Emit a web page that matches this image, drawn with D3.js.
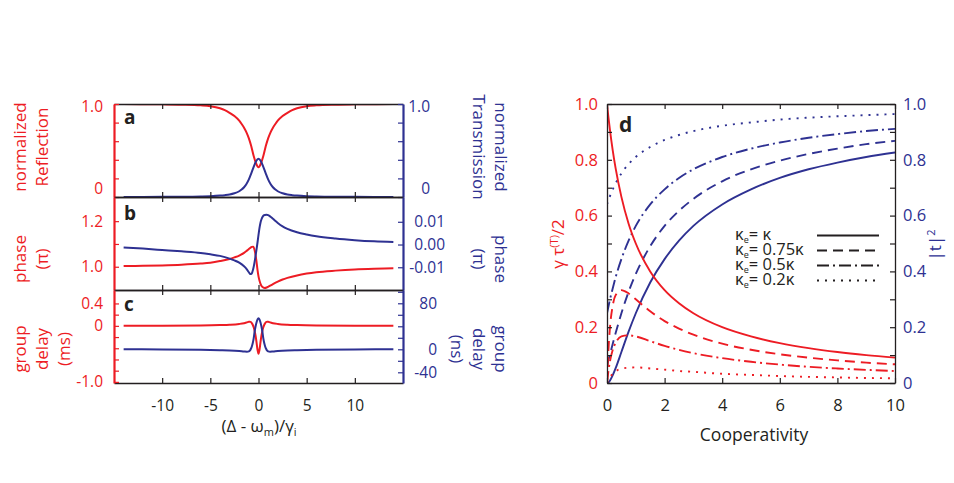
<!DOCTYPE html>
<html>
<head>
<meta charset="utf-8">
<script src="https://cdn.jsdelivr.net/npm/d3@7/dist/d3.min.js"></script>
<style>
  body { margin: 0; background: #fff; }
  svg { display: block; }
</style>
</head>
<body>
<div id="chart"></div>
<script>
// ---- panels a-c: detuning (Δ - ωm)/γi ----
const detuning = [-14, -12, -10, -8, -6, -5, -4, -3.5, -3, -2.5, -2, -1.75, -1.5, -1.25, -1, -0.75, -0.5, -0.25, 0,
  0.25, 0.5, 0.75, 1, 1.25, 1.5, 1.75, 2, 2.5, 3, 3.5, 4, 5, 6, 8, 10, 12, 14];
const reflection = [0.999, 0.998, 0.996, 0.993, 0.986, 0.977, 0.955, 0.935, 0.905, 0.87, 0.82, 0.785, 0.745, 0.695, 0.63, 0.545, 0.44, 0.36, 0.32,
  0.36, 0.44, 0.545, 0.63, 0.695, 0.745, 0.785, 0.82, 0.87, 0.905, 0.935, 0.955, 0.977, 0.986, 0.993, 0.996, 0.998, 0.999];
const transmission = [0.001, 0.001, 0.002, 0.003, 0.006, 0.009, 0.015, 0.02, 0.027, 0.04, 0.062, 0.08, 0.105, 0.14, 0.19, 0.255, 0.325, 0.385, 0.41,
  0.385, 0.325, 0.255, 0.19, 0.14, 0.105, 0.08, 0.062, 0.04, 0.027, 0.02, 0.015, 0.009, 0.006, 0.003, 0.002, 0.001, 0.001];

const phaseDetuning = [-14, -12, -10, -8, -6, -5, -4, -3, -2.5, -2, -1.5, -1.25, -1, -0.85, -0.7, -0.55, -0.4, -0.3, -0.2, -0.1,
  0, 0.1, 0.2, 0.3, 0.45, 0.65, 0.85, 1, 1.25, 1.5, 2, 2.5, 3, 4, 5, 6, 8, 10, 12, 14];
const reflPhase = [1.003, 1.004, 1.006, 1.009, 1.014, 1.018, 1.025, 1.034, 1.041, 1.049, 1.061, 1.069, 1.078, 1.083, 1.087, 1.088, 1.072, 1.05, 1.02, 0.985,
  0.958, 0.94, 0.926, 0.917, 0.91, 0.907, 0.909, 0.912, 0.918, 0.924, 0.935, 0.944, 0.951, 0.962, 0.970, 0.976, 0.983, 0.988, 0.991, 0.993];
const transPhase = [-0.0013, -0.0018, -0.0024, -0.003, -0.0037, -0.0043, -0.005, -0.0062, -0.007, -0.008, -0.0096, -0.0107, -0.0122, -0.013, -0.0127, -0.0108, -0.0075, -0.0048, -0.002, 0.001,
  0.0042, 0.0072, 0.0095, 0.011, 0.0124, 0.013, 0.0131, 0.0129, 0.0122, 0.0113, 0.0095, 0.008, 0.0069, 0.0054, 0.0044, 0.0036, 0.0026, 0.0019, 0.0014, 0.0011];

const delayDetuning = [-14, -10, -6, -4, -3, -2, -1.5, -1.2, -1, -0.9, -0.8, -0.7, -0.6, -0.5, -0.4, -0.3, -0.2, -0.1, 0,
  0.1, 0.2, 0.3, 0.4, 0.5, 0.6, 0.7, 0.8, 0.9, 1, 1.2, 1.5, 2, 3, 4, 6, 10, 14];
const reflDelay = [0, 0.002, 0.007, 0.014, 0.02, 0.034, 0.048, 0.062, 0.072, 0.074, 0.068, 0.05, 0.02, -0.025, -0.09, -0.18, -0.3, -0.43, -0.5,
  -0.43, -0.3, -0.18, -0.09, -0.025, 0.02, 0.05, 0.068, 0.074, 0.072, 0.062, 0.048, 0.034, 0.02, 0.014, 0.007, 0.002, 0];
const transDelay = [0, -0.3, -0.8, -1.5, -2, -3, -3.8, -4.2, -3.5, -2.4, 0.5, 4.5, 10.5, 19, 31, 40, 47, 52, 54,
  52, 47, 40, 31, 19, 10.5, 4.5, 0.5, -2.4, -3.5, -4.2, -3.8, -3, -2, -1.5, -0.8, -0.3, 0];

const detTicks = [-10, -5, 0, 5, 10];
const detTickLabels = ["-10", "-5", "0", "5", "10"];

const aRedTicks = [0, 0.2, 0.4, 0.6, 0.8, 1];
const aRedLabels = ["0", "", "", "", "", "1.0"];
const aBlueTicks = [0, 0.2, 0.4, 0.6, 0.8, 1];
const aBlueLabels = ["0", "", "", "", "", "1.0"];
const bRedTicks = [1.0, 1.1, 1.2];
const bRedLabels = ["1.0", "", "1.2"];
const bBlueTicks = [-0.01, 0, 0.01];
const bBlueLabels = ["-0.01", "0.00", "0.01"];
const cRedTicks = [-1, -0.8, -0.6, -0.4, -0.2, 0, 0.2, 0.4];
const cRedLabels = ["-1.0", "", "", "", "", "0", "", "0.4"];
const cBlueTicks = [-40, -20, 0, 20, 40, 60, 80, 100];
const cBlueLabels = ["-40", "", "0", "", "", "", "80", ""];

// ---- panel d: cooperativity ----
const coop = [0, 0.05, 0.1, 0.2, 0.3, 0.5, 0.75, 1, 1.5, 2, 2.5, 3, 4, 5, 6, 7, 8, 9, 10];
const delayKe100 = [1, 0.952, 0.909, 0.833, 0.769, 0.667, 0.571, 0.5, 0.4, 0.333, 0.286, 0.25, 0.2, 0.167, 0.143, 0.125, 0.111, 0.1, 0.091];
const delayKe75 = [0, 0.119, 0.195, 0.278, 0.315, 0.333, 0.321, 0.3, 0.257, 0.222, 0.195, 0.173, 0.141, 0.119, 0.103, 0.091, 0.081, 0.073, 0.067];
const delayKe50 = [0, 0.043, 0.076, 0.119, 0.144, 0.167, 0.171, 0.167, 0.15, 0.133, 0.119, 0.107, 0.089, 0.076, 0.066, 0.058, 0.052, 0.047, 0.043];
const delayKe20 = [0, 0.011, 0.020, 0.033, 0.042, 0.051, 0.055, 0.056, 0.052, 0.048, 0.043, 0.040, 0.033, 0.029, 0.025, 0.022, 0.020, 0.018, 0.017];
const transKe100 = [0, 0.002, 0.008, 0.028, 0.053, 0.111, 0.184, 0.25, 0.36, 0.444, 0.51, 0.563, 0.64, 0.694, 0.735, 0.766, 0.79, 0.81, 0.826];
const transKe75 = [0.063, 0.082, 0.101, 0.141, 0.179, 0.25, 0.327, 0.391, 0.49, 0.563, 0.617, 0.66, 0.723, 0.766, 0.797, 0.821, 0.84, 0.856, 0.868];
const transKe50 = [0.25, 0.274, 0.298, 0.34, 0.379, 0.444, 0.51, 0.563, 0.64, 0.694, 0.735, 0.766, 0.81, 0.84, 0.862, 0.879, 0.892, 0.903, 0.911];
const transKe20 = [0.64, 0.655, 0.669, 0.694, 0.716, 0.751, 0.785, 0.81, 0.846, 0.871, 0.889, 0.903, 0.922, 0.934, 0.944, 0.951, 0.956, 0.96, 0.964];
const legendRatios = ["κ", "0.75κ", "0.5κ", "0.2κ"];

const coopTicks = [0, 2, 4, 6, 8, 10];
const coopTickLabels = ["0", "2", "4", "6", "8", "10"];
const dTicks = [0, 0.1, 0.2, 0.3, 0.4, 0.5, 0.6, 0.7, 0.8, 0.9, 1.0];
const dTickLabels = ["0", "", "0.2", "", "0.4", "", "0.6", "", "0.8", "", "1.0"];

// ---- drawing ----
const RED = "#ed1c24";
const BLUE = "#2e3192";
const INK = "#231f20";
const FONT = "'Open Sans', 'Noto Sans', sans-serif";

const svg = d3.select("#chart").append("svg")
  .attr("width", 954).attr("height", 483)
  .attr("font-family", FONT);
svg.append("rect").attr("width", 954).attr("height", 483).attr("fill", "#fff");

const xDet = d3.scaleLinear().domain([-15, 15]).range([114, 403]);

function styleAxis(sel, lineColor, textColor, lineWidth, fontSize) {
  sel.attr("font-family", FONT).attr("font-size", fontSize);
  sel.select(".domain").attr("stroke", lineColor).attr("stroke-width", lineWidth);
  sel.selectAll(".tick line").attr("stroke", lineColor).attr("stroke-width", 1.2);
  sel.selectAll(".tick text").attr("fill", textColor);
}

// rotated multi-line axis title
function sideTitle(lines, x0, step, cy, angle, color, size) {
  lines.forEach((t, i) => {
    svg.append("text")
      .attr("transform", `translate(${x0 + i * step},${cy}) rotate(${angle})`)
      .attr("text-anchor", "middle")
      .attr("fill", color)
      .attr("font-size", size)
      .text(t);
  });
}

function drawTwinPanel(p) {
  const [x0, x1] = xDet.range();
  const yRed = d3.scaleLinear().domain(p.redDomain).range([p.bottom, p.top]);
  const yBlue = d3.scaleLinear().domain(p.blueDomain).range([p.bottom, p.top]);
  const g = svg.append("g");

  g.append("clipPath").attr("id", "clip-" + p.name).append("rect")
    .attr("x", x0).attr("y", p.top).attr("width", x1 - x0).attr("height", p.bottom - p.top);
  const plot = g.append("g").attr("clip-path", `url(#clip-${p.name})`);

  [[p.redX, p.redY, yRed, RED], [p.blueX, p.blueY, yBlue, BLUE]].forEach(([xs, ys, y, color]) => {
    plot.append("path")
      .datum(d3.zip(xs, ys))
      .attr("fill", "none")
      .attr("stroke", color)
      .attr("stroke-width", 2)
      .attr("d", d3.line().x(d => xDet(d[0])).y(d => y(d[1])).curve(d3.curveMonotoneX));
  });

  // frame top / bottom with inward ticks
  const top = g.append("g").attr("transform", `translate(0,${p.top})`)
    .call(d3.axisTop(xDet).tickValues(detTicks).tickSize(-5).tickSizeOuter(0).tickFormat(""));
  styleAxis(top, INK, INK, 1.3, 15);
  const bottom = g.append("g").attr("transform", `translate(0,${p.bottom})`)
    .call(d3.axisBottom(xDet).tickValues(detTicks).tickSize(-5).tickSizeOuter(0).tickPadding(17)
      .tickFormat(p.showX ? (d, i) => detTickLabels[i] : ""));
  styleAxis(bottom, INK, INK, 1.3, 15.5);

  const left = g.append("g").attr("transform", `translate(${x0},0)`)
    .call(d3.axisLeft(yRed).tickValues(p.redTicks).tickSize(-5).tickSizeOuter(0).tickPadding(11)
      .tickFormat((d, i) => p.redLabels[i]));
  styleAxis(left, RED, RED, 2.2, 15.5);

  const right = g.append("g").attr("transform", `translate(${x1},0)`)
    .call(d3.axisRight(yBlue).tickValues(p.blueTicks).tickSize(-5).tickSizeOuter(0)
      .tickFormat((d, i) => p.blueLabels[i]));
  styleAxis(right, BLUE, BLUE, 2.2, 15.5);
  right.selectAll(".tick text").attr("text-anchor", "end").attr("x", p.blueEnd - x1);

  // labels sitting on the panel edges are nudged inwards, as in the original
  if (p.edgeNudge) {
    [left, right].forEach(ax => {
      ax.selectAll(".tick text").filter(d => d === p.redDomain[0]).attr("y", -p.edgeNudge[0]);
      ax.selectAll(".tick text").filter(d => d === p.redDomain[1]).attr("y", p.edgeNudge[1]);
    });
  }

  g.append("text").attr("x", 124).attr("y", p.letterY)
    .attr("font-size", 19).attr("font-weight", "bold").attr("fill", INK).text(p.name);

  sideTitle(p.leftTitle, 26, 22, p.titleY, -90, RED, 17);
  sideTitle(p.rightTitle, 495, -22, p.titleY, 90, BLUE, 17);
}

drawTwinPanel({
  name: "a", top: 104, bottom: 197, letterY: 124,
  redX: detuning, redY: reflection, blueX: detuning, blueY: transmission,
  redDomain: [0, 1], blueDomain: [0, 1],
  redTicks: aRedTicks, redLabels: aRedLabels, blueTicks: aBlueTicks, blueLabels: aBlueLabels,
  blueEnd: 430, edgeNudge: [8, 3],
  leftTitle: ["normalized", "Reflection"], rightTitle: ["normalized", "Transmission"], titleY: 147
});

drawTwinPanel({
  name: "b", top: 197, bottom: 290, letterY: 220,
  redX: phaseDetuning, redY: reflPhase, blueX: phaseDetuning, blueY: transPhase,
  redDomain: [0.898, 1.306], blueDomain: [-0.0200, 0.0209],
  redTicks: bRedTicks, redLabels: bRedLabels, blueTicks: bBlueTicks, blueLabels: bBlueLabels,
  blueEnd: 445,
  leftTitle: ["phase", "(π)"], rightTitle: ["phase", "(π)"], titleY: 259
});

drawTwinPanel({
  name: "c", top: 290, bottom: 383, letterY: 311, showX: true,
  redX: delayDetuning, redY: reflDelay, blueX: delayDetuning, blueY: transDelay,
  redDomain: [-1.02, 0.64], blueDomain: [-58.6, 103.1],
  redTicks: cRedTicks, redLabels: cRedLabels, blueTicks: cBlueTicks, blueLabels: cBlueLabels,
  blueEnd: 437,
  leftTitle: ["group", "delay", "(ms)"], rightTitle: ["group", "delay", "(ns)"], titleY: 349
});

// x title of the left column
const xTitle = svg.append("text").attr("x", 259).attr("y", 432)
  .attr("text-anchor", "middle").attr("font-size", 17).attr("fill", INK);
xTitle.append("tspan").text("(Δ - ω");
xTitle.append("tspan").attr("dy", 4).attr("font-size", 11).text("m");
xTitle.append("tspan").attr("dy", -4).text(")/γ");
xTitle.append("tspan").attr("dy", 4).attr("font-size", 11).text("i");

// ---- panel d ----
const xD = d3.scaleLinear().domain([0, 10]).range([607, 895]);
const yD = d3.scaleLinear().domain([0, 1]).range([383, 104]);
const dashes = ["", "10,6", "12,4,2,4", "2,6"];

const gd = svg.append("g");
gd.append("clipPath").attr("id", "clip-d").append("rect")
  .attr("x", 607).attr("y", 104).attr("width", 288).attr("height", 279);
const plotD = gd.append("g").attr("clip-path", "url(#clip-d)");
const lineD = d3.line().x(d => xD(d[0])).y(d => yD(d[1])).curve(d3.curveMonotoneX);

[[transKe100, transKe75, transKe50, transKe20], [delayKe100, delayKe75, delayKe50, delayKe20]].forEach((group, gi) => {
  group.forEach((ys, i) => {
    plotD.append("path")
      .datum(d3.zip(coop, ys))
      .attr("fill", "none")
      .attr("stroke", gi === 0 ? BLUE : RED)
      .attr("stroke-width", 1.9)
      .attr("stroke-dasharray", dashes[i] || null)
      .attr("d", lineD);
  });
});

const dBottom = gd.append("g").attr("transform", "translate(0,383)")
  .call(d3.axisBottom(xD).tickValues(coopTicks).tickSize(-5).tickSizeOuter(0).tickPadding(16)
    .tickFormat((d, i) => coopTickLabels[i]));
styleAxis(dBottom, INK, INK, 1.3, 16.5);
const dTop = gd.append("g").attr("transform", "translate(0,104)")
  .call(d3.axisTop(xD).tickValues(coopTicks).tickSize(-5).tickSizeOuter(0).tickFormat(""));
styleAxis(dTop, INK, INK, 1.3, 16);
const dLeft = gd.append("g").attr("transform", "translate(607,0)")
  .call(d3.axisLeft(yD).tickValues(dTicks).tickSize(-5).tickSizeOuter(0).tickPadding(9)
    .tickFormat((d, i) => dTickLabels[i]));
styleAxis(dLeft, INK, RED, 1.3, 16.5);
const dRight = gd.append("g").attr("transform", "translate(895,0)")
  .call(d3.axisRight(yD).tickValues(dTicks).tickSize(-5).tickSizeOuter(0).tickPadding(8)
    .tickFormat((d, i) => dTickLabels[i]));
styleAxis(dRight, INK, BLUE, 1.3, 16.5);

gd.append("text").attr("x", 619).attr("y", 132)
  .attr("font-size", 21).attr("font-weight", "bold").attr("fill", INK).text("d");

// legend
legendRatios.forEach((r, i) => {
  const yb = 240 + i * 15;
  const t = gd.append("text").attr("x", 735).attr("y", yb).attr("font-size", 16.5).attr("fill", INK);
  t.append("tspan").text("κ");
  t.append("tspan").attr("dy", 3).attr("font-size", 9).text("e");
  t.append("tspan").attr("dy", -3).text("= " + r);
  gd.append("line")
    .attr("x1", 817).attr("x2", 879).attr("y1", yb - 4.5).attr("y2", yb - 4.5)
    .attr("stroke", INK).attr("stroke-width", 1.9)
    .attr("stroke-dasharray", dashes[i] || null);
});

// axis titles of panel d
svg.append("text").attr("x", 754).attr("y", 441).attr("text-anchor", "middle")
  .attr("font-size", 17.5).attr("fill", INK).text("Cooperativity");

const yTitle = svg.append("text")
  .attr("transform", "translate(564,244) rotate(-90)")
  .attr("text-anchor", "middle").attr("font-size", 17).attr("fill", RED);
yTitle.append("tspan").text("γ τ");
yTitle.append("tspan").attr("dy", -6).attr("font-size", 11).text("(T)");
yTitle.append("tspan").attr("dy", 6).text("/2");

const tTitle = svg.append("text")
  .attr("transform", "translate(941,245) rotate(-90)")
  .attr("text-anchor", "middle").attr("font-size", 17).attr("fill", BLUE);
tTitle.append("tspan").text("|t|");
tTitle.append("tspan").attr("dy", -6).attr("font-size", 11).text("2");
</script>
</body>
</html>
